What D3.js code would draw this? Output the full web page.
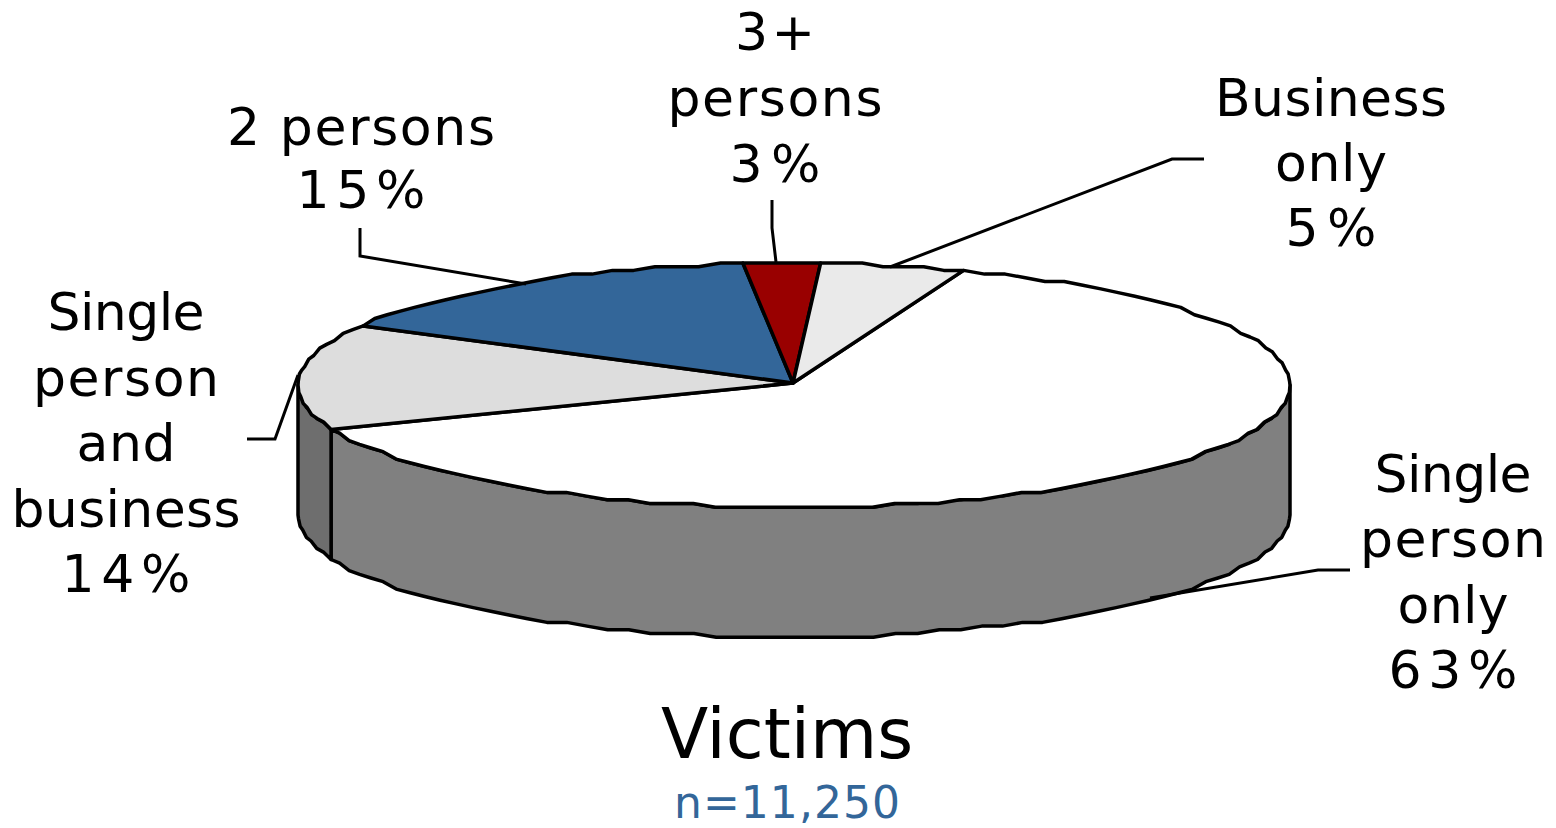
<!DOCTYPE html>
<html><head><meta charset="utf-8">
<script src="https://cdn.jsdelivr.net/npm/d3@7/dist/d3.min.js"></script>
<style>html,body{margin:0;padding:0;background:#fff;overflow:hidden}svg{display:block}text{font-family:"DejaVu Sans",sans-serif}</style>
</head><body><svg id="c" width="1556" height="828"></svg>
<script>
const categories = ["Single person only","Single person and business","2 persons","3+ persons","Business only"];
const values = [63.6,14.1,15.1,2.5,4.7];
const topColors = ["#ffffff","#dddddd","#336699","#990000","#eaeaea"];
const sideColors = ["#808080","#6e6e6e","#264d73","#730000","#b0b0b0"];
const labelLines = [["Single","person","only","63%"],["Single","person","and","business","14%"],["2 persons","15%"],["3+","persons","3%"],["Business","only","5%"]];
const labelWidths = [[157,186,111,129],[157,186,99,229,129],[268,129],[80,215,91],[232,112,91]];
const labelX = [1453,126,361,775,1331];
const labelY = [492,330,145,50,116];
const lineStep = [65.3,65.5,63,66,65];
const leaders = [
 [[1350,570],[1318,570],[1150,598]],
 [[247,439],[275,439],[298,375]],
 [[360,228],[360,256],[526,284]],
 [[772,200],[772,228],[776,262]],
 [[1204,159],[1172,159],[890,267]]];
const title = "Victims", subtitle = "n=11,250";
const deg = Math.PI/180;
const svg = d3.select("#c");
const X = d3.scaleLinear().domain([-1,1]).range([298,1290]);
const Y = d3.scaleLinear().domain([-1,1]).range([263,507]);
const depth = 130, grid = 3.7, step = 2.6*deg;
const arcs = d3.pie().sort(null).value(d=>d).startAngle(20*deg).endAngle(380*deg)(values);
const snap = y => Y(-1)+Math.round((y-Y(-1))/grid)*grid;
const rim = (a,dy=0)=>[X(Math.sin(a)), snap(Y(-Math.cos(a)))+dy];
function rimPts(a0,a1,dy=0){
  const n=Math.max(1,Math.round((a1-a0)/step)), o=[];
  for(let i=0;i<=n;i++) o.push(rim(a0+(a1-a0)*i/n,dy));
  return o;
}
const path = d3.line();
const cen=[X(0)-1,Y(0)-2];
arcs.forEach((s,i)=>{
  const a0=Math.max(s.startAngle,90*deg), a1=Math.min(s.endAngle,270*deg);
  if(a1<=a0) return;
  const t=rimPts(a0,a1), b=rimPts(a0,a1,depth).reverse();
  svg.append("path").attr("d",path(t.concat(b))+"Z").attr("fill",sideColors[i]).attr("stroke","#000").attr("stroke-width",3.5).attr("stroke-linejoin","round");
});
arcs.forEach((s,i)=>{
  const p=[cen].concat(rimPts(s.startAngle,s.endAngle));
  svg.append("path").attr("d",path(p)+"Z").attr("fill",topColors[i]).attr("stroke","#000").attr("stroke-width",3.5).attr("stroke-linejoin","round");
});
leaders.forEach(l=>svg.append("path").attr("d",path(l)).attr("fill","none").attr("stroke","#000").attr("stroke-width",3));
labelLines.forEach((ls,i)=>{
  ls.forEach((t,j)=>svg.append("text").attr("x",labelX[i]).attr("y",labelY[i]+j*lineStep[i]).attr("text-anchor","middle").attr("font-size",52).attr("fill","#000").attr("textLength",labelWidths[i][j]).attr("lengthAdjust","spacing").text(t));
});
svg.append("text").attr("x",787).attr("y",758).attr("text-anchor","middle").attr("font-size",69).attr("fill","#000").text(title);
svg.append("text").attr("x",787).attr("y",817.5).attr("text-anchor","middle").attr("font-size",44).attr("textLength",226).attr("lengthAdjust","spacing").attr("fill","#336699").text(subtitle);
</script></body></html>
